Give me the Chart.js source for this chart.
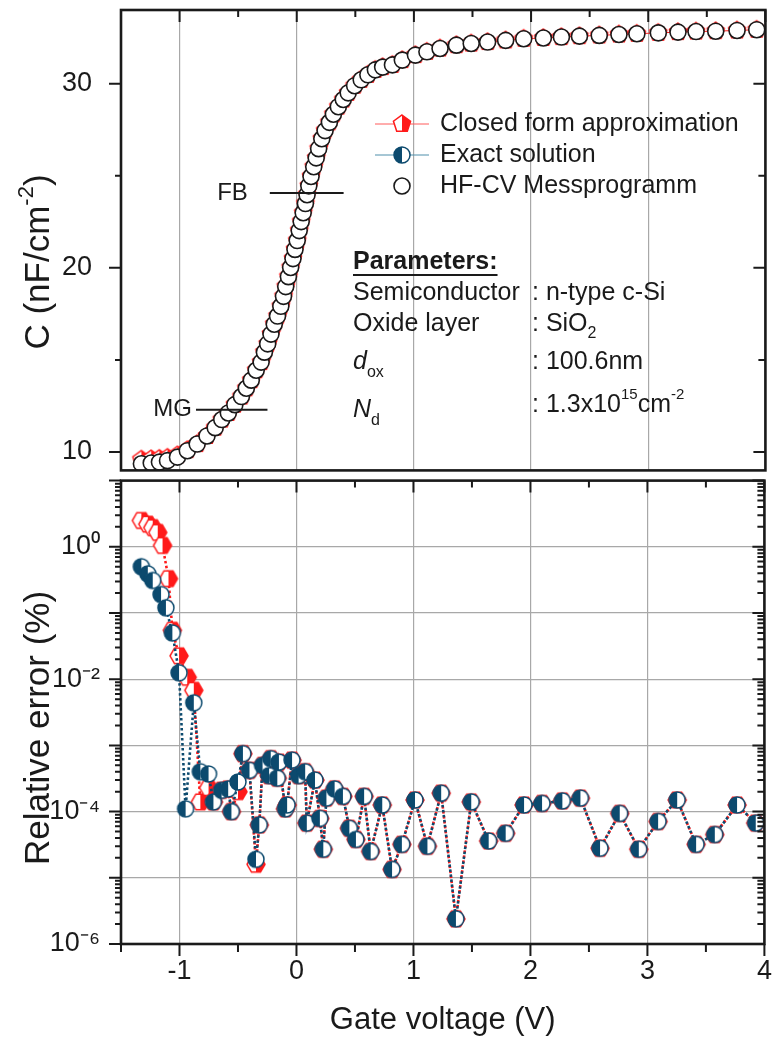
<!DOCTYPE html>
<html>
<head>
<meta charset="utf-8">
<script src="https://cdn.jsdelivr.net/npm/chart.js@4.4.1/dist/chart.umd.min.js"></script>
<style>
  body { margin: 0; background: #fff; }
  #wrap { position: relative; width: 775px; height: 1042px; overflow: hidden; }
  canvas { position: absolute; left: 0; }
  #capChart { top: 0; }
  #errChart { top: 470px; }
</style>
</head>
<body>
<div id="wrap">
  <canvas id="capChart" width="775" height="480"></canvas>
  <canvas id="errChart" width="775" height="572"></canvas>
</div>
<script>
// C-V curve (top panel)
const vCap = [-1.326, -1.242, -1.172, -1.103, -1.018, -0.934, -0.850, -0.766, -0.696, -0.640,
  -0.584, -0.528, -0.472, -0.430, -0.388, -0.346, -0.304, -0.276, -0.248, -0.220,
  -0.192, -0.164, -0.136, -0.113, -0.094, -0.071, -0.052, -0.032, -0.015, 0.004,
  0.021, 0.038, 0.055, 0.074, 0.088, 0.103, 0.122, 0.145, 0.166, 0.187,
  0.214, 0.242, 0.279, 0.313, 0.355, 0.397, 0.439, 0.494, 0.550, 0.607,
  0.671, 0.733, 0.817, 0.901, 1.013, 1.111, 1.223, 1.363, 1.489, 1.629,
  1.783, 1.937, 2.105, 2.259, 2.413, 2.582, 2.750, 2.903, 3.086, 3.254,
  3.408, 3.576, 3.758, 3.926];
const capMeasured = [9.36, 9.40, 9.45, 9.53, 9.72, 10.07, 10.43, 10.87, 11.32, 11.76,
  12.12, 12.57, 13.01, 13.46, 13.90, 14.44, 14.88, 15.42, 15.87, 16.40,
  16.94, 17.38, 17.91, 18.45, 18.98, 19.52, 20.02, 20.50, 21.00, 21.48,
  22.02, 22.51, 22.99, 23.49, 23.97, 24.45, 24.96, 25.49, 25.97, 26.47,
  27.01, 27.45, 27.90, 28.34, 28.75, 29.14, 29.50, 29.89, 30.21, 30.48,
  30.75, 30.90, 31.02, 31.28, 31.55, 31.73, 31.91, 32.09, 32.18, 32.26,
  32.35, 32.44, 32.48, 32.53, 32.58, 32.62, 32.67, 32.71, 32.76, 32.80,
  32.83, 32.85, 32.89, 32.93];
const capClosedForm = [9.59, 9.61, 9.63, 9.69, 9.82, 10.10, 10.43, 10.87, 11.32, 11.76,
  12.12, 12.57, 13.01, 13.46, 13.90, 14.44, 14.88, 15.42, 15.87, 16.40,
  16.94, 17.38, 17.91, 18.45, 18.98, 19.52, 20.02, 20.50, 21.00, 21.48,
  22.02, 22.51, 22.99, 23.49, 23.97, 24.45, 24.96, 25.49, 25.97, 26.47,
  27.01, 27.45, 27.90, 28.34, 28.75, 29.14, 29.50, 29.89, 30.21, 30.48,
  30.75, 30.90, 31.02, 31.28, 31.55, 31.73, 31.91, 32.09, 32.18, 32.26,
  32.35, 32.44, 32.48, 32.53, 32.58, 32.62, 32.67, 32.71, 32.76, 32.80,
  32.83, 32.85, 32.89, 32.93];

// relative error (bottom panel), percent
const vErrExact = [-1.326, -1.271, -1.229, -1.158, -1.116, -1.061, -1.004, -0.948, -0.878,
  -0.822, -0.752, -0.710, -0.640, -0.584, -0.556, -0.500, -0.458, -0.402, -0.346,
  -0.318, -0.290, -0.234, -0.220, -0.164, -0.150, -0.094, -0.080, -0.038, 0.018,
  0.074, 0.088, 0.158, 0.200, 0.229, 0.256, 0.326, 0.397, 0.452, 0.508,
  0.578, 0.634, 0.733, 0.817, 0.901, 1.013, 1.119, 1.237, 1.363, 1.494,
  1.643, 1.788, 1.945, 2.099, 2.273, 2.427, 2.595, 2.763, 2.926, 3.091,
  3.254, 3.416, 3.576, 3.766, 3.926];
const errExact = [0.50, 0.39, 0.31, 0.19, 0.12, 0.05, 0.0125, 1.1e-4, 4.4e-3,
  4.0e-4, 3.7e-4, 1.4e-4, 2.1e-4, 2.2e-4, 1.0e-4, 2.8e-4, 7.5e-4, 4.2e-4, 1.9e-5,
  6.3e-5, 5.0e-4, 3.5e-4, 6.3e-4, 3.2e-4, 5.6e-4, 1.1e-4, 1.26e-4, 6.0e-4, 3.5e-4,
  4.0e-4, 6.7e-5, 3.0e-4, 7.9e-5, 2.7e-5, 1.6e-4, 2.2e-4, 1.7e-4, 5.6e-5, 3.8e-5,
  1.7e-4, 2.5e-5, 1.26e-4, 1.34e-5, 3.2e-5, 1.5e-4, 3.0e-5, 1.9e-4, 2.4e-6, 1.4e-4,
  3.6e-5, 4.7e-5, 1.26e-4, 1.33e-4, 1.45e-4, 1.6e-4, 2.8e-5, 9.4e-5, 2.7e-5, 7.1e-5,
  1.5e-4, 3.2e-5, 4.5e-5, 1.26e-4, 6.7e-5];
const vErrClosed = [-1.326, -1.271, -1.229, -1.186, -1.145, -1.094, -1.061, -1.004, -0.934, -0.878,
  -0.822, -0.752, -0.710, -0.640, -0.584, -0.556, -0.500, -0.458, -0.402, -0.346,
  -0.318, -0.290, -0.234, -0.220, -0.164, -0.150, -0.094, -0.080, -0.038, 0.018,
  0.074, 0.088, 0.158, 0.200, 0.229, 0.256, 0.326, 0.397, 0.452, 0.508,
  0.578, 0.634, 0.733, 0.817, 0.901, 1.013, 1.119, 1.237, 1.363, 1.494,
  1.643, 1.788, 1.945, 2.099, 2.273, 2.427, 2.595, 2.763, 2.926, 3.091,
  3.254, 3.416, 3.576, 3.766, 3.926];
const errClosed = [2.5, 2.2, 1.95, 1.65, 1.05, 0.33, 0.055, 0.0226, 0.0107, 0.0068,
  1.4e-4, 2.3e-4, 1.4e-4, 2.1e-4, 2.2e-4, 1.0e-4, 2.0e-4, 7.5e-4, 4.2e-4, 1.6e-5,
  6.3e-5, 5.0e-4, 3.5e-4, 6.3e-4, 3.2e-4, 5.6e-4, 1.1e-4, 1.26e-4, 6.0e-4, 3.5e-4,
  4.0e-4, 6.7e-5, 3.0e-4, 7.9e-5, 2.7e-5, 1.6e-4, 2.2e-4, 1.7e-4, 5.6e-5, 3.8e-5,
  1.7e-4, 2.5e-5, 1.26e-4, 1.34e-5, 3.2e-5, 1.5e-4, 3.0e-5, 1.9e-4, 2.4e-6, 1.4e-4,
  3.6e-5, 4.7e-5, 1.26e-4, 1.33e-4, 1.45e-4, 1.6e-4, 2.8e-5, 9.4e-5, 2.7e-5, 7.1e-5,
  1.5e-4, 3.2e-5, 4.5e-5, 1.26e-4, 6.7e-5];

// axis ticks
const voltTicks = [-1, 0, 1, 2, 3, 4];
const capTicks = [10, 20, 30];
const errTicks = [1e-6, 1e-5, 1e-4, 1e-3, 1e-2, 1e-1, 1, 10];
const errTickLabels = ['10⁻⁶', '', '10⁻⁴', '', '10⁻²', '', '10⁰', ''];

// flat band / midgap markers
const fbLine = { v: [-0.23, 0.40], c: 24.06 };
const mgLine = { v: [-0.86, -0.25], c: 12.3 };

const FONT = '"Liberation Sans", Arial, Helvetica, sans-serif';
const RED = '#ff1a1a';
const BLUE = '#0c4a6e';
const GRID = '#a8a8a8';
const INK = '#1a1a1a';

function pts(xs, ys) {
  return xs.map((x, i) => ({ x: x, y: ys[i] }));
}
function pair(line) {
  return line.v.map(v => ({ x: v, y: line.c }));
}

// little canvases used as point styles
function marker(size, draw) {
  const c = document.createElement('canvas');
  c.width = size; c.height = size;
  draw(c.getContext('2d'), size / 2);
  return c;
}
function polyPath(g, m, r, n, start) {
  g.beginPath();
  for (let k = 0; k < n; k++) {
    const a = start + k * 2 * Math.PI / n;
    const px = m + r * Math.cos(a), py = m + r * Math.sin(a);
    if (k === 0) g.moveTo(px, py); else g.lineTo(px, py);
  }
  g.closePath();
}
function halfPoly(n, start, r) {
  return marker(22, (g, m) => {
    polyPath(g, m, r, n, start);
    g.fillStyle = '#fff'; g.fill();
    g.save(); g.clip();
    g.fillStyle = RED; g.fillRect(m, 0, m, 2 * m);
    g.restore();
    polyPath(g, m, r, n, start);
    g.strokeStyle = RED; g.lineWidth = 1.5; g.stroke();
  });
}
const redHex = halfPoly(6, 0, 9);
const redPenta = halfPoly(5, -Math.PI / 2, 9);
const blueHalf = marker(22, (g, m) => {
  g.beginPath(); g.arc(m, m, 8, 0, Math.PI * 2);
  g.fillStyle = '#fff'; g.fill();
  g.beginPath(); g.arc(m, m, 8, Math.PI / 2, Math.PI * 1.5); g.closePath();
  g.fillStyle = BLUE; g.fill();
  g.beginPath(); g.arc(m, m, 8, 0, Math.PI * 2);
  g.strokeStyle = BLUE; g.lineWidth = 1.5; g.stroke();
});
const openCircle = marker(22, (g, m) => {
  g.beginPath(); g.arc(m, m, 8, 0, Math.PI * 2);
  g.fillStyle = '#fff'; g.fill();
  g.strokeStyle = INK; g.lineWidth = 1.6; g.stroke();
});

function font(size, style) {
  return (style || '') + ' ' + size + 'px ' + FONT;
}
// draws pieces [text, size, dy, style] one after the other
function richText(ctx, x, y, parts) {
  ctx.textBaseline = 'middle';
  ctx.textAlign = 'left';
  for (const [t, size, dy, style] of parts) {
    ctx.font = font(size, style);
    ctx.fillText(t, x, y + (dy || 0));
    x += ctx.measureText(t).width;
  }
  return x;
}
function textWidth(ctx, parts) {
  let w = 0;
  for (const [t, size, , style] of parts) {
    ctx.font = font(size, style);
    w += ctx.measureText(t).width;
  }
  return w;
}
// rotated axis title, centred on (cx, cy)
function sideTitle(ctx, cx, cy, parts) {
  ctx.save();
  ctx.translate(cx, cy);
  ctx.rotate(-Math.PI / 2);
  ctx.fillStyle = INK;
  richText(ctx, -textWidth(ctx, parts) / 2, 0, parts);
  ctx.restore();
}

// Chart.js pads the plot for edge labels; the frame here is fixed, so drop that
function fixBox(w, h) {
  return s => {
    if (w !== null) s.width = w;
    if (h !== null) s.height = h;
    s.paddingTop = 0; s.paddingBottom = 0;
    s.paddingLeft = 0; s.paddingRight = 0;
  };
}

// frame plus the tick marks Origin puts on all four sides
function drawFrame(chart, yMajor, yMinor) {
  const { ctx, chartArea: a, scales: { x, y } } = chart;
  ctx.save();
  ctx.strokeStyle = INK;
  ctx.lineWidth = 2;
  ctx.beginPath();
  for (let v = -1.5; v <= 4.001; v += 0.5) {
    const px = x.getPixelForValue(v);
    const major = Math.abs(v - Math.round(v)) < 1e-6;
    ctx.moveTo(px, a.top); ctx.lineTo(px, a.top + (major ? 12 : 7));
  }
  yMajor.forEach(v => {
    const py = y.getPixelForValue(v);
    ctx.moveTo(a.left - 12, py); ctx.lineTo(a.left, py);
    ctx.moveTo(a.right, py); ctx.lineTo(a.right - 12, py);
  });
  yMinor.forEach(v => {
    const py = y.getPixelForValue(v);
    ctx.moveTo(a.left - 6, py); ctx.lineTo(a.left, py);
    ctx.moveTo(a.right, py); ctx.lineTo(a.right - 7, py);
  });
  ctx.stroke();
  ctx.lineWidth = 2.6;
  ctx.strokeRect(a.left, a.top, a.right - a.left, a.bottom - a.top);
  ctx.restore();
}

const capPlugin = {
  id: 'capDecor',
  afterDatasetsDraw(chart) {
    const { ctx, scales: { x, y } } = chart;
    drawFrame(chart, capTicks, [15, 25]);
    sideTitle(ctx, 39, 262, [['C (nF/cm', 35], ['-2', 22, -12], [')', 35]]);
    ctx.save();
    ctx.fillStyle = INK;
    // FB / MG labels next to their lines
    ctx.font = font(24);
    ctx.textAlign = 'right';
    ctx.textBaseline = 'middle';
    ctx.fillText('FB', x.getPixelForValue(fbLine.v[0]) - 22, y.getPixelForValue(fbLine.c));
    ctx.fillText('MG', x.getPixelForValue(mgLine.v[0]) - 4, y.getPixelForValue(mgLine.c));

    // legend
    const rows = [
      { y: 124, line: '#ff5a5a', img: redPenta, text: 'Closed form approximation' },
      { y: 155, line: '#4f8fab', img: blueHalf, text: 'Exact solution' },
      { y: 186, line: null, img: openCircle, text: 'HF-CV Messprogramm' }
    ];
    rows.forEach(r => {
      if (r.line) {
        ctx.strokeStyle = r.line; ctx.lineWidth = 1;
        ctx.beginPath(); ctx.moveTo(375, r.y); ctx.lineTo(429, r.y); ctx.stroke();
      }
      ctx.drawImage(r.img, 402 - r.img.width / 2, r.y - r.img.height / 2);
      ctx.fillStyle = INK;
      richText(ctx, 440, r.y, [[r.text, 25]]);
    });

    // parameter block
    const end = richText(ctx, 353, 262, [['Parameters:', 25, 0, 'bold']]);
    ctx.strokeStyle = INK; ctx.lineWidth = 2;
    ctx.beginPath(); ctx.moveTo(353, 275); ctx.lineTo(end, 275); ctx.stroke();
    richText(ctx, 353, 293, [['Semiconductor', 25]]);
    richText(ctx, 532, 293, [[': n-type c-Si', 25]]);
    richText(ctx, 353, 324, [['Oxide layer', 25]]);
    richText(ctx, 532, 324, [[': SiO', 25], ['2', 16, 10]]);
    richText(ctx, 353, 362, [['d', 25, 0, 'italic'], ['ox', 16, 11]]);
    richText(ctx, 532, 362, [[': 100.6nm', 25]]);
    richText(ctx, 353, 410, [['N', 25, 0, 'italic'], ['d', 16, 11]]);
    richText(ctx, 532, 405, [[': 1.3x10', 25], ['15', 15, -10], ['cm', 25], ['-2', 15, -10]]);
    ctx.restore();
  }
};

const errMinor = [];
for (let d = -6; d < 1; d++) {
  for (let k = 2; k <= 9; k++) errMinor.push(k * Math.pow(10, d));
}
const errPlugin = {
  id: 'errDecor',
  afterDatasetsDraw(chart) {
    const { ctx, chartArea: a, scales: { x } } = chart;
    drawFrame(chart, errTicks, errMinor);
    sideTitle(ctx, 39, 258, [['Relative error (%)', 35]]);
    ctx.save();
    ctx.strokeStyle = INK; ctx.lineWidth = 2;
    ctx.beginPath();
    for (let v = -1.5; v <= 4.001; v += 0.5) {
      const px = x.getPixelForValue(v);
      const major = Math.abs(v - Math.round(v)) < 1e-6;
      ctx.moveTo(px, a.bottom); ctx.lineTo(px, a.bottom + (major ? 12 : 8));
    }
    ctx.stroke();
    ctx.restore();
  }
};

function xScale(showLabels, height) {
  return {
    type: 'linear', min: -1.5, max: 4,
    afterBuildTicks: s => { s.ticks = voltTicks.map(v => ({ value: v })); },
    afterFit: fixBox(null, height),
    grid: { color: GRID, lineWidth: 1.2, drawTicks: false },
    border: { display: false },
    ticks: {
      display: showLabels, padding: 11, autoSkip: false, maxRotation: 0,
      color: INK, font: { family: FONT, size: 27 },
      callback: v => String(v)
    }
  };
}

new Chart(document.getElementById('capChart'), {
  type: 'scatter',
  data: {
    datasets: [
      { label: 'FB', data: pair(fbLine), showLine: true, borderColor: INK, borderWidth: 2, pointRadius: 0, order: -1 },
      { label: 'MG', data: pair(mgLine), showLine: true, borderColor: INK, borderWidth: 2, pointRadius: 0, order: -1 },
      {
        label: 'HF-CV Messprogramm', data: pts(vCap, capMeasured), order: 0,
        pointStyle: 'circle', pointRadius: 8, pointBorderWidth: 1.6,
        pointBorderColor: INK, pointBackgroundColor: '#fff'
      },
      {
        label: 'Closed form approximation', data: pts(vCap, capClosedForm), order: 1,
        showLine: true, borderColor: RED, borderWidth: 1,
        pointStyle: redPenta, pointRadius: 8
      }
    ]
  },
  options: {
    responsive: false, animation: false, events: [],
    layout: { padding: { top: 10, right: 1, left: 0, bottom: 0 } },
    plugins: { legend: { display: false }, tooltip: { enabled: false } },
    scales: {
      x: xScale(false, 4),
      y: {
        type: 'linear', min: 9, max: 34,
        afterBuildTicks: s => { s.ticks = capTicks.map(v => ({ value: v })); },
        afterFit: fixBox(121, null),
        grid: { display: false },
        border: { display: false },
        ticks: { padding: 21, color: INK, font: { family: FONT, size: 27 } }
      }
    }
  },
  plugins: [capPlugin]
});

new Chart(document.getElementById('errChart'), {
  type: 'scatter',
  data: {
    datasets: [
      {
        label: 'Exact solution', data: pts(vErrExact, errExact), order: 0,
        showLine: true, borderColor: BLUE, borderWidth: 2.6, borderDash: [2.5, 2.5],
        pointStyle: blueHalf, pointRadius: 8
      },
      {
        label: 'Closed form approximation', data: pts(vErrClosed, errClosed), order: 1,
        showLine: true, borderColor: RED, borderWidth: 2.6, borderDash: [2.5, 2.5],
        pointStyle: redHex, pointRadius: 8
      }
    ]
  },
  options: {
    responsive: false, animation: false, events: [],
    layout: { padding: { top: 6, right: 1, left: 0, bottom: 0 } },
    plugins: { legend: { display: false }, tooltip: { enabled: false } },
    scales: {
      x: Object.assign(xScale(true, 98), {
        title: {
          display: true, text: 'Gate voltage (V)', color: INK,
          font: { family: FONT, size: 31 }, padding: { top: 0, bottom: 3 }
        }
      }),
      y: {
        type: 'logarithmic', min: 1e-6, max: 10,
        afterBuildTicks: s => { s.ticks = errTicks.map(v => ({ value: v })); },
        afterFit: fixBox(121, null),
        grid: { color: GRID, lineWidth: 1.2, drawTicks: false },
        border: { display: false },
        ticks: {
          padding: 21, autoSkip: false, color: INK, font: { family: FONT, size: 27 },
          callback: (v, i) => errTickLabels[i]
        }
      }
    }
  },
  plugins: [errPlugin]
});
</script>
</body>
</html>
